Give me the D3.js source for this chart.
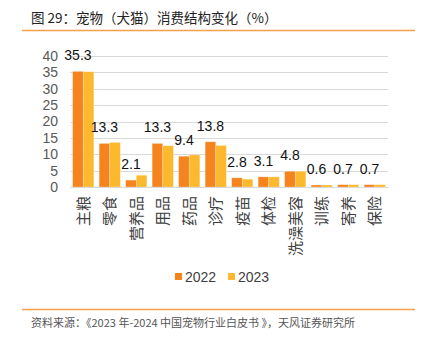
<!DOCTYPE html>
<html>
<head>
<meta charset="utf-8">
<script src="https://cdn.jsdelivr.net/npm/d3@7"></script>
<style>
  body { margin: 0; background: #fff; }
  text { font-family: "Liberation Sans", "Noto Sans CJK SC", sans-serif; }
  .cjk { font-family: "Noto Sans CJK SC", sans-serif; }
</style>
</head>
<body>
<script>
// data
var categories = ['主粮', '零食', '营养品', '用品', '药品', '诊疗', '疫苗', '体检', '洗澡美容', '训练', '寄养', '保险'];
var years = ['2022', '2023'];
var values2022 = [35.3, 13.3, 2.1, 13.3, 9.4, 13.8, 2.8, 3.1, 4.8, 0.6, 0.7, 0.7];
var values2023 = [35.2, 13.6, 3.6, 12.6, 9.8, 12.7, 2.4, 3.1, 4.8, 0.6, 0.7, 0.7];
var yTicks = [0, 5, 10, 15, 20, 25, 30, 35, 40];

var colors = ['#F5841F', '#FDB92E'];

const W = 423, H = 339;
const margin = { top: 56, right: 35, bottom: 152, left: 70 };
const width = W - margin.left - margin.right;
const height = H - margin.top - margin.bottom;

const svg = d3.select('body').append('svg')
	.attr('width', W)
	.attr('height', H);

// title + rules
svg.append('text')
	.attr('class', 'cjk')
	.attr('x', 31).attr('y', 23)
	.attr('font-size', 13.5)
	.attr('fill', '#222')
	.text('图 29：宠物（犬猫）消费结构变化（%）');

svg.append('line')
	.attr('x1', 22).attr('x2', 415).attr('y1', 30.5).attr('y2', 30.5)
	.attr('stroke', '#F5A04A').attr('stroke-width', 1.5);

svg.append('line')
	.attr('x1', 22).attr('x2', 415).attr('y1', 309.5).attr('y2', 309.5)
	.attr('stroke', '#F5A04A').attr('stroke-width', 1.5);

svg.append('text')
	.attr('class', 'cjk')
	.attr('x', 31).attr('y', 327)
	.attr('font-size', 11)
	.attr('fill', '#555')
	.text('资料来源：《2023 年-2024 中国宠物行业白皮书 》，天风证券研究所');

const g = svg.append('g')
	.attr('transform', 'translate(' + margin.left + ',' + margin.top + ')');

const x0 = d3.scaleBand()
	.domain(categories)
	.range([0, width])
	.paddingInner(0.2)
	.paddingOuter(0.1);

const x1 = d3.scaleBand()
	.domain(years)
	.range([0, x0.bandwidth()]);

const y = d3.scaleLinear()
	.domain([0, 40])
	.range([height, 0]);

// gridlines
g.append('g')
	.selectAll('line')
	.data(yTicks)
	.enter()
	.append('line')
	.attr('x1', 0).attr('x2', width)
	.attr('y1', function (d) { return Math.round(y(d)) + 0.5; })
	.attr('y2', function (d) { return Math.round(y(d)) + 0.5; })
	.attr('stroke', '#D9D9D9')
	.attr('stroke-width', 1.2);

// y axis
const yAxis = d3.axisLeft(y).tickValues(yTicks).tickSize(0).tickPadding(12);
g.append('g')
	.call(yAxis)
	.call(function (s) { s.select('.domain').remove(); })
	.selectAll('text')
	.attr('font-size', 14)
	.attr('fill', '#595959');

// bars
var series = [values2022, values2023];
const groups = g.selectAll('.grp')
	.data(categories)
	.enter()
	.append('g')
	.attr('class', 'grp')
	.attr('transform', function (d) { return 'translate(' + x0(d) + ',0)'; });

groups.selectAll('rect')
	.data(function (d, i) {
		return years.map(function (yr, k) { return { yr: yr, k: k, v: series[k][i] }; });
	})
	.enter()
	.append('rect')
	.attr('x', function (d) { return x1(d.yr); })
	.attr('width', x1.bandwidth())
	.attr('y', function (d) { return y(d.v); })
	.attr('height', function (d) { return height - y(d.v); })
	.attr('fill', function (d) { return colors[d.k]; })
	.attr('stroke', '#fff')
	.attr('stroke-opacity', 0.4)
	.attr('stroke-width', 0.6);

// value labels (2022)
groups.append('text')
	.attr('x', function () { return x1('2022') + x1.bandwidth() / 2; })
	.attr('y', function (d, i) { return y(values2022[i]) - 11; })
	.attr('text-anchor', 'middle')
	.attr('font-size', 14)
	.attr('fill', '#111')
	.text(function (d, i) { return values2022[i].toFixed(1); });

// x axis
const xAxis = d3.axisBottom(x0).tickSize(0).tickPadding(0);
const xa = g.append('g')
	.attr('transform', 'translate(0,' + height + ')')
	.call(xAxis);
xa.select('.domain').attr('stroke', '#D9D9D9').attr('stroke-width', 1.2);
xa.selectAll('text')
	.attr('class', 'cjk')
	.attr('font-size', 15)
	.attr('fill', '#404040')
	.attr('transform', 'rotate(-90)')
	.attr('text-anchor', 'end')
	.attr('dy', '0.35em')
	.attr('x', -9)
	.attr('y', 0);

// legend
const legend = svg.append('g').attr('transform', 'translate(175,278)');
years.forEach(function (yr, k) {
	const lg = legend.append('g').attr('transform', 'translate(' + (k * 53) + ',0)');
	lg.append('rect')
		.attr('x', 0).attr('y', -5)
		.attr('width', 7).attr('height', 7)
		.attr('fill', colors[k]);
	lg.append('text')
		.attr('x', 10).attr('y', 4)
		.attr('font-size', 14)
		.attr('fill', '#404040')
		.text(yr);
});
</script>
</body>
</html>
